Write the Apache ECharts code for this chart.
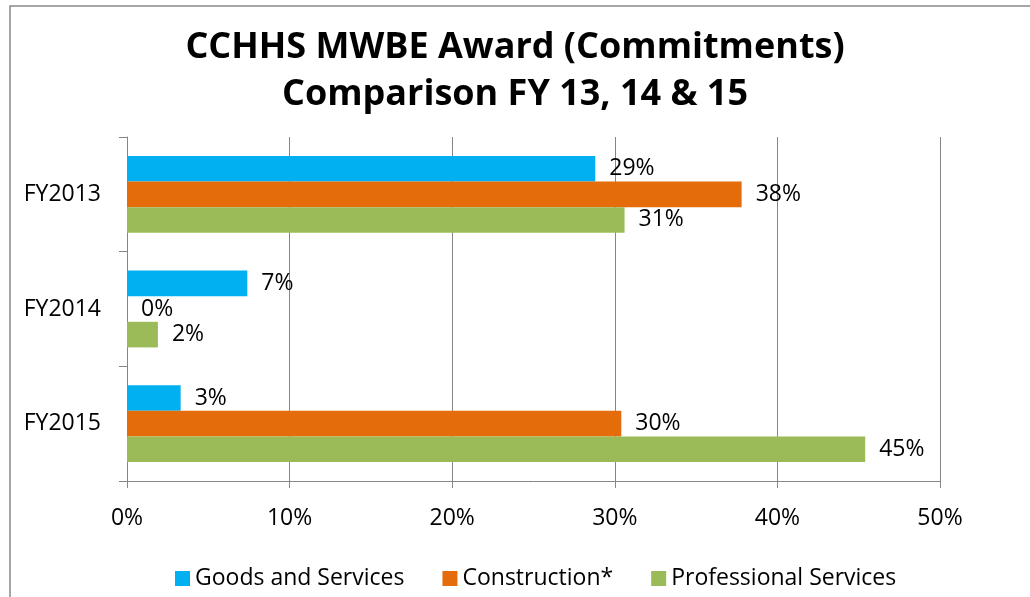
<!DOCTYPE html>
<html><head><meta charset="utf-8">
<script src="https://cdn.jsdelivr.net/npm/echarts@6/dist/echarts.min.js"></script>
<style>html,body{margin:0;padding:0;background:#fff}#c{width:1030px;height:597px}</style>
</head><body><div id="c"></div>
<script>
var categories = ['FY2013', 'FY2014', 'FY2015'];
var goodsServices = [28.8, 7.4, 3.3];
var construction = [37.8, 0, 30.4];
var professionalServices = [30.6, 1.9, 45.4];
var xTicks = [0, 10, 20, 30, 40, 50];

var chart = echarts.init(document.getElementById('c'));
var font = '"Open Sans", "Noto Sans", sans-serif';
var lbl = {show: true, position: 'right', distance: 14, color: '#000', fontSize: 23, fontFamily: font,
  formatter: function (p) { return Math.round(p.value) + '%'; }};
function mk(name, data, color) {
  return {name: name, type: 'bar', data: data, barGap: '0%', barCategoryGap: '33%',
    itemStyle: {color: color}, label: lbl};
}
chart.setOption({
  animation: false,
  textStyle: {fontFamily: font},
  title: {text: 'CCHHS MWBE Award (Commitments)\nComparison FY 13, 14 & 15', left: 'center', top: 19,
    textStyle: {fontSize: 36, fontWeight: 'bold', color: '#000', lineHeight: 47, fontFamily: font}},
  graphic: [{type: 'rect', shape: {x: 10, y: 6, width: 1060, height: 640}, style: {fill: 'none', stroke: '#888', lineWidth: 1.5}, silent: true}],
  legend: {bottom: 2, left: 170, itemWidth: 15, itemHeight: 15, itemGap: 38, icon: 'rect',
    textStyle: {fontSize: 23, color: '#000', fontFamily: font},
    data: ['Goods and Services', 'Construction*', 'Professional Services']},
  grid: {left: 127, right: 90, top: 137, bottom: 116, containLabel: false},
  xAxis: {type: 'value', min: 0, max: 50, interval: 10,
    axisLine: {show: true, lineStyle: {color: '#868686'}},
    axisTick: {show: true, length: 7, lineStyle: {color: '#868686'}},
    splitLine: {show: true, lineStyle: {color: '#868686', width: 1}},
    axisLabel: {margin: 26, fontSize: 23, color: '#000', fontFamily: font,
      formatter: function (v) { return xTicks.indexOf(v) >= 0 ? v + '%' : ''; }}},
  yAxis: {type: 'category', data: categories, inverse: true,
    axisLine: {show: true, lineStyle: {color: '#868686'}},
    axisTick: {show: true, length: 8, lineStyle: {color: '#868686'}},
    axisLabel: {margin: 26, fontSize: 23, color: '#000', fontFamily: font}},
  series: [mk('Goods and Services', goodsServices, '#00B0F0'),
    mk('Construction*', construction, '#E46C0A'),
    mk('Professional Services', professionalServices, '#9BBB59')]
});
</script></body></html>
